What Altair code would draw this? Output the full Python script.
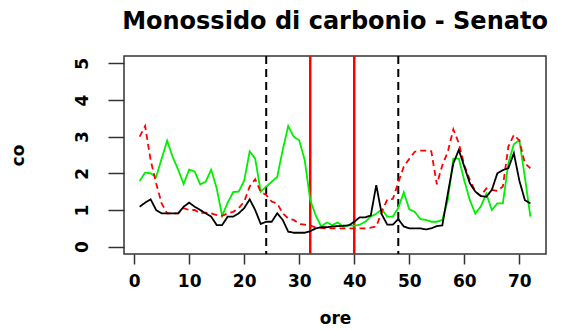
import altair as alt
import pandas as pd

# Hourly CO readings (mg/m3) at the Senato station, three series
ore = list(range(1, 73))

nero = [1.09, 1.2, 1.29, 1.0, 0.91, 0.91, 0.91, 0.91, 1.09, 1.2,
        1.09, 1.0, 0.91, 0.82, 0.59, 0.59, 0.82, 0.82, 0.91, 1.05,
        1.29, 1.0, 0.62, 0.68, 0.68, 0.91, 0.73, 0.41, 0.38, 0.38,
        0.38, 0.42, 0.5, 0.53, 0.53, 0.55, 0.56, 0.57, 0.58, 0.68,
        0.8, 0.8, 0.85, 1.68, 0.88, 0.6, 0.6, 0.75, 0.55, 0.5,
        0.5, 0.5, 0.47, 0.5, 0.56, 0.58, 1.45, 2.27, 2.64, 2.18,
        1.73, 1.5, 1.38, 1.36, 1.55, 2.0, 2.09, 2.14, 2.55, 1.8,
        1.27, 1.18]

rosso = [3.0, 3.29, 2.36, 1.73, 1.18, 0.91, 0.91, 0.91, 1.05, 1.0,
         1.0, 0.91, 0.93, 0.91, 0.86, 0.84, 0.91, 0.95, 1.05, 1.23,
         1.64, 1.84, 1.5, 1.41, 1.23, 1.18, 0.91, 0.77, 0.73, 0.62,
         0.6, 0.58, 0.52, 0.51, 0.5, 0.5, 0.5, 0.5, 0.5, 0.5,
         0.5, 0.5, 0.52, 0.55, 0.95, 1.29, 1.3, 1.75, 2.18, 2.4,
         2.59, 2.62, 2.62, 2.6, 1.7, 2.22, 2.59, 3.2, 2.82, 2.22,
         1.82, 1.5, 1.38, 1.59, 1.55, 1.52, 1.64, 2.73, 3.05, 2.9,
         2.27, 2.14]

verde = [1.79, 2.02, 2.0, 1.9, 2.4, 2.89, 2.45, 2.1, 1.71, 2.1,
         2.05, 1.7, 1.77, 2.1, 1.59, 0.84, 1.2, 1.49, 1.5, 1.8,
         2.6, 2.4, 1.5, 1.64, 1.77, 1.9, 2.64, 3.29, 3.0, 2.9,
         2.36, 1.27, 0.85, 0.55, 0.66, 0.59, 0.66, 0.55, 0.59, 0.57,
         0.6, 0.68, 0.82, 0.9, 1.02, 0.82, 0.82, 1.06, 1.48, 1.02,
         0.95, 0.75, 0.73, 0.68, 0.68, 0.73, 1.27, 2.4, 2.4, 1.8,
         1.27, 0.9, 1.1, 1.44, 1.0, 1.18, 1.18, 2.27, 2.8, 2.9,
         1.9, 0.82]

# Reference hours: day boundaries (dashed) and the 32-40 window (red)
giorni = [24, 48]
finestra = [32, 40]

x_ticks = [0, 10, 20, 30, 40, 50, 60, 70]
y_ticks = [0, 1, 2, 3, 4, 5]

serie = ["verde", "rosso", "nero"]
colori = ["#00ee00", "#ff0000", "#000000"]
tratti = [[1, 0], [6, 4], [1, 0]]

valori = {"nero": nero, "rosso": rosso, "verde": verde}
df = pd.DataFrame(
    [{"ore": h, "co": v, "serie": s} for s in serie for h, v in zip(ore, valori[s])]
)
df["ordine"] = df["serie"].map({s: i for i, s in enumerate(serie)})

FONT = "DejaVu Sans"

x_scale = alt.Scale(domain=[-1.84, 74.84], nice=False, zero=False)
y_scale = alt.Scale(domain=[-0.2, 5.2], nice=False, zero=False)

x_axis = alt.Axis(
    values=x_ticks, title="ore", grid=False, domain=False,
    tickSize=10, tickColor="#333333", tickWidth=1.5,
    labelFont=FONT, labelFontSize=17, labelFontWeight="bold", labelColor="#000000",
    labelPadding=9, labelFlush=False,
    titleFont=FONT, titleFontSize=17, titleFontWeight="bold", titleColor="#000000",
    titleY=64, titleBaseline="middle",
)
y_axis = alt.Axis(
    values=y_ticks, title="co", grid=False, domain=False,
    tickSize=16, tickColor="#333333", tickWidth=1.5,
    labelFont=FONT, labelFontSize=17, labelFontWeight="bold", labelColor="#000000",
    labelAngle=270, labelAlign="center", labelBaseline="middle", labelPadding=26,
    labelFlush=False,
    titleFont=FONT, titleFontSize=17, titleFontWeight="bold", titleColor="#000000",
    titleAngle=270, titleX=-106, titleY=99, titleAlign="center", titleBaseline="middle",
)

linee = alt.Chart(df).mark_line(strokeWidth=1.8).encode(
    x=alt.X("ore:Q", scale=x_scale, axis=x_axis),
    y=alt.Y("co:Q", scale=y_scale, axis=y_axis),
    color=alt.Color("serie:N", scale=alt.Scale(domain=serie, range=colori), legend=None),
    strokeDash=alt.StrokeDash("serie:N", scale=alt.Scale(domain=serie, range=tratti), legend=None),
    detail="serie:N",
    order="ordine:Q",
)

righe_giorni = alt.Chart(pd.DataFrame({"ore": giorni})).mark_rule(
    color="#000000", strokeWidth=2, strokeDash=[8, 5]
).encode(x=alt.X("ore:Q", scale=x_scale))

righe_finestra = alt.Chart(pd.DataFrame({"ore": finestra})).mark_rule(
    color="#ff0000", strokeWidth=2.5
).encode(x=alt.X("ore:Q", scale=x_scale))

chart = alt.layer(righe_giorni, righe_finestra, linee).properties(
    width=422,
    height=198,
    background="white",
    autosize=alt.AutoSizeParams(type="none"),
    padding={"left": 124, "top": 56, "right": 29, "bottom": 76},
    title=alt.TitleParams(
        "Monossido di carbonio - Senato",
        font=FONT, fontSize=24, fontWeight="bold", color="#000000",
        anchor="middle", baseline="alphabetic", offset=2,
    ),
).configure_view(
    stroke="#333333", strokeWidth=1.5
)

chart.save("out.html", embed_options={"renderer": "svg", "actions": False})
